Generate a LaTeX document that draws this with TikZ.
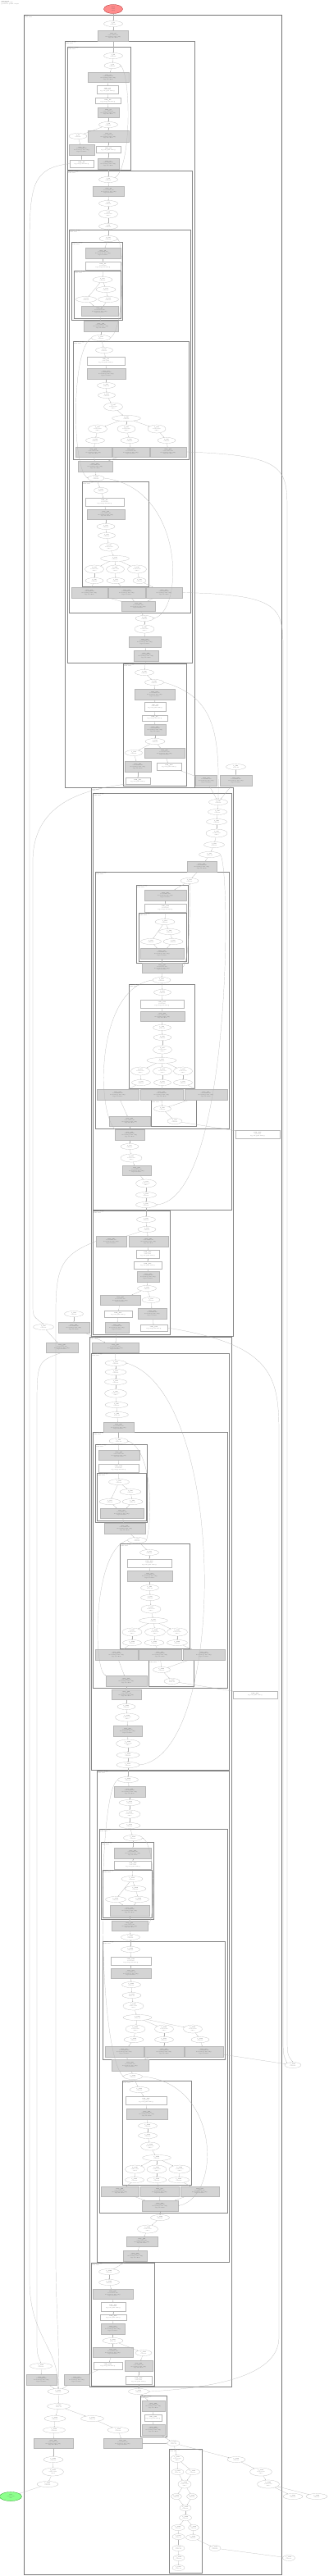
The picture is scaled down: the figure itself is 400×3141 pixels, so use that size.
\documentclass[tikz,border=0pt]{standalone}
\usetikzlibrary{shapes.geometric,arrows.meta}
\newcommand\tf{\fontsize{1.4}{1.75}\selectfont}
\tikzset{
 el/.style={ellipse,draw=black!30,line width=0.2pt,fill=white,inner sep=0pt,font=\tf,text=black!70,align=center},
 gbx/.style={rectangle,draw=black!28,fill=black!17,line width=0.2pt,inner sep=0pt,font=\tf,text=black!70,align=center},
 wbx/.style={rectangle,draw=black!28,fill=white,line width=0.2pt,inner sep=0pt,font=\tf,text=black!70,align=center},
 cl/.style={draw=black!48,line width=0.4pt},
 clA/.style={draw=black!55,line width=0.9pt},
 cll/.style={font=\tf,text=black!75,align=left,inner sep=0pt},
 ed/.style={draw=black!30,line width=0.2pt,-{Stealth[length=1.2pt,width=0.9pt]}},
}
\newcommand\Ea[5]{\node[el,minimum width=#4pt,minimum height=#5pt] (#1) at (#2,#3) {\textbf{f\_#1}\\0.01s 1x};}
\newcommand\Eb[5]{\node[el,minimum width=#4pt,minimum height=#5pt] (#1) at (#2,#3) {\textbf{f\_#1}\\0.01s 0.00s\\calls 1};}
\newcommand\Gb[5]{\node[gbx,minimum width=#4pt,minimum height=#5pt] (#1) at (#2,#3) {\textbf{step\_#1}\\0.01 0.00 0.01s\\mod/run.py:120 call()\\args ret=None};}
\newcommand\Wc[5]{\node[wbx,minimum width=#4pt,minimum height=#5pt] (#1) at (#2,#3) {\textbf{task\_#1}\\0.01 0.00s\\log/out.py:42 write()};}
\newcommand\Wb[5]{\node[wbx,minimum width=#4pt,minimum height=#5pt] (#1) at (#2,#3) {\textbf{task\_#1}\\log/out.py:42 write()};}
\newcommand\Cl[4]{\draw[cl] (#1,#2) rectangle (#3,#4); \node[cll,anchor=north west] at (#1+0.8,#2+0.6) {\textbf{cluster: stage}\\0.00s total};}
\begin{document}
\begin{tikzpicture}[x=1pt,y=-1pt]
\useasboundingbox (0,0) rectangle (400,3141);
\fill[white] (0,0) rectangle (400,3141);
\node[cll,anchor=north west] (hdr) at (1.5,1) {\textbf{call graph}\\total time: 0.00s\\generated: profile output};
% clusters
\draw[clA] (29,18) rectangle (343,3139);
\node[cll,anchor=north west] at (29.8,18.6) {\textbf{main}\\0.00s total};
\Cl{79}{50}{237}{960}
\Cl{82}{57}{159}{207}
\Cl{82}{208}{234}{808}
\Cl{84}{280}{232}{747}
\Cl{87}{295}{149}{390}
\Cl{90}{330}{147}{388}
\Cl{89}{416}{230}{560}
\Cl{100}{587}{181}{715}
\Cl{150}{809}{227}{958}
\Cl{111}{960}{284}{1629}
\Cl{113}{967}{282}{1475}
\Cl{116}{1063}{279}{1376}
\Cl{166}{1079}{229}{1174}
\Cl{169}{1113}{227}{1172}
\Cl{157}{1200}{237}{1327}
\Cl{184}{1341}{239}{1373}
\Cl{113}{1476}{207}{1627}
\Cl{109}{1630}{282}{2910}
\Cl{111}{1650}{279}{2158}
\Cl{113}{1746}{277}{2058}
\Cl{116}{1761}{179}{1856}
\Cl{118}{1796}{178}{1854}
\Cl{146}{1882}{231}{2010}
\Cl{181}{2024}{236}{2056}
\Cl{118}{2159}{279}{2758}
\Cl{121}{2230}{277}{2698}
\Cl{123}{2246}{187}{2340}
\Cl{125}{2280}{185}{2338}
\Cl{125}{2367}{274}{2511}
\Cl{149}{2537}{233}{2664}
\Cl{111}{2759}{188}{2909}
\Cl{171}{2921}{203}{2971}
\Cl{206}{2986}{246}{3137}
% nodes
\node[el,fill=red!45,draw=red!60!black,minimum width=23pt,minimum height=11pt] (red) at (138,11) {\textbf{start}\\0.00s\\entry};
\node[el,fill=green!45,draw=green!50!black,minimum width=27pt,minimum height=11pt] (green) at (13,3044) {\textbf{end}\\0.00s total\\exit};
\Ea{n1}{138}{29}{23}{7}
\Gb{g1}{138}{44}{37}{13}
\Ea{n2}{138}{68}{23}{7}
\Ea{n3}{137}{80}{20}{7}
\Gb{g2}{132}{94.5}{50}{12}
\Wc{w1}{131}{109.5}{26}{10}
\Wb{w2}{131.5}{123}{31}{7}
\Gb{g3}{132}{137}{26}{12}
\Ea{n4}{132}{152}{23}{7}
\Gb{g4}{132}{166}{50}{14}
\Ea{n5}{95}{166}{22}{7}
\Gb{g5}{99.5}{182.5}{31}{13}
\Wb{w3}{132}{182}{30}{8}
\Wb{w4}{99.5}{199.5}{29}{9}
\Gb{g6}{132}{199.5}{26}{13}
\Ea{n6}{132}{219}{23}{7}
\Gb{g7}{132.5}{233}{38}{12}
\Ea{n7}{132}{248}{23}{7}
\Eb{n8}{132}{261}{23}{10}
\Ea{n9}{132}{276}{23}{7}
\Ea{n10}{132}{291}{22}{7}
\Gb{g8}{125.5}{308.5}{43}{13}
\Wc{w5}{125.5}{324}{43}{10}
\Ea{n11}{125}{341}{24}{7}
\Ea{n12}{129}{353}{24}{7}
\Ea{n13}{105}{365}{25}{7}
\Ea{n14}{132}{365}{25}{7}
\Gb{g9}{121.5}{379}{45}{12}
\Gb{g10}{123}{397.5}{42}{13}
\Ea{n15}{123}{412}{23}{7}
\Ea{n16}{127}{427}{21}{7}
\Wc{w6}{129}{440}{46}{10}
\Gb{g11}{129.5}{455.5}{47}{13}
\Ea{n17}{129.5}{470}{22}{7}
\Ea{n18}{130}{482}{21}{7}
\Eb{n19}{138}{496}{23}{10}
\Ea{n20}{154}{510}{35}{7}
\Eb{n21}{119}{523}{23}{10}
\Eb{n22}{154}{523}{22}{10}
\Eb{n23}{191}{523}{22}{10}
\Ea{n24}{116}{537}{23}{7}
\Ea{n25}{158}{537}{22}{7}
\Ea{n26}{203}{537}{22}{7}
\Gb{g12}{114}{551}{44}{12}
\Gb{g13}{159.5}{551}{45}{12}
\Gb{g14}{205}{551}{44}{12}
\Gb{g15}{116}{568.5}{42}{13}
\Ea{n27}{117}{583}{20}{7}
\Ea{n28}{123}{598}{17}{7}
\Wc{w7}{127.5}{612}{47}{10}
\Gb{g16}{129}{627}{46}{12}
\Ea{n29}{129}{642}{22}{7}
\Ea{n30}{130}{653}{21}{7}
\Eb{n31}{133}{667}{23}{10}
\Ea{n32}{140}{681}{35}{7}
\Eb{n33}{115}{694}{23}{10}
\Eb{n34}{140.5}{694}{22}{10}
\Eb{n35}{167}{694}{23}{10}
\Ea{n36}{115}{708}{22}{7}
\Ea{n37}{141}{708}{22}{7}
\Ea{n38}{170}{708}{16}{7}
\Gb{g17}{109}{722.5}{44}{13}
\Gb{g18}{154.5}{722.5}{45}{13}
\Gb{g19}{200}{722.5}{44}{13}
\Gb{g20}{168.5}{739}{41}{12}
\Ea{n39}{176}{754}{22}{7}
\Eb{n40}{176}{767}{24}{10}
\Gb{g21}{176.5}{782.5}{39}{13}
\Gb{g22}{178}{799.5}{30}{13}
\Ea{n41}{176}{820}{23}{7}
\Ea{n42}{188}{832}{23}{7}
\Gb{g23}{188.5}{846.5}{49}{13}
\Wc{w8}{189}{861.5}{26}{11}
\Wb{w9}{188.5}{875.5}{31}{7}
\Gb{g24}{189}{889.5}{26}{13}
\Ea{n43}{189}{904}{24}{7}
\Ea{n44}{163}{918}{21}{7}
\Gb{g25}{200.5}{918}{49}{12}
\Gb{g26}{168}{934.5}{32}{13}
\Wb{w10}{206}{934.5}{30}{9}
\Wb{w11}{168}{952}{30}{8}
\Ea{n45}{287.5}{935}{24}{7}
\Gb{g27}{251.5}{951.5}{26}{13}
\Gb{g28}{287.5}{951.5}{39}{13}
\Ea{n46}{266}{978}{23}{7}
\Ea{n47}{265}{990}{23}{7}
\Ea{n48}{264}{1002}{25}{7}
\Eb{n49}{264}{1016}{26}{10}
\Ea{n50}{261}{1030}{25}{7}
\Ea{n51}{255.5}{1042}{26}{7}
\Gb{g29}{246}{1056.5}{36}{13}
\Ea{n52}{231}{1074}{22}{7}
\Gb{g30}{201.5}{1091.5}{51}{13}
\Wc{w12}{201.5}{1107}{51}{10}
\Ea{n53}{201}{1124}{24}{7}
\Ea{n54}{206.5}{1136}{26}{7}
\Ea{n55}{184}{1148}{25}{7}
\Ea{n56}{211}{1148}{24}{7}
\Gb{g31}{197.5}{1162.5}{53}{13}
\Gb{g32}{197.5}{1180}{49}{12}
\Ea{n57}{197}{1195}{22}{7}
\Ea{n58}{198}{1210}{21}{7}
\Wc{w13}{197.5}{1224}{53}{10}
\Gb{g33}{198}{1239}{54}{12}
\Ea{n59}{197.5}{1253}{22}{7}
\Ea{n60}{198}{1265}{22}{7}
\Eb{n61}{198}{1280}{23}{10}
\Ea{n62}{197}{1293}{36}{7}
\Eb{n63}{171}{1306}{23}{10}
\Eb{n64}{198}{1306}{23}{10}
\Eb{n65}{223}{1306}{23}{10}
\Ea{n66}{172}{1320}{23}{7}
\Ea{n67}{198}{1320}{21}{7}
\Ea{n68}{223}{1320}{23}{7}
\Gb{g34}{143.5}{1334.5}{51}{13}
\Gb{g35}{197}{1334.5}{52}{13}
\Gb{g36}{251}{1334.5}{52}{13}
\Ea{n69}{198}{1352}{21}{7}
\Ea{n70}{213}{1367}{18}{7}
\Gb{g37}{158}{1367}{50}{12}
\Wc{w14}{314}{1383}{54}{10}
\Gb{g38}{158}{1383.5}{36}{13}
\Ea{n71}{158}{1398}{22}{7}
\Eb{n72}{160}{1412}{26}{10}
\Gb{g39}{166.5}{1427}{35}{12}
\Eb{n73}{178}{1443}{25}{10}
\Ea{n74}{178}{1457}{25}{7}
\Ea{n75}{178}{1469}{25}{7}
\Ea{n76}{178}{1487}{23}{7}
\Ea{n77}{179}{1499}{22}{7}
\Gb{g40}{135.5}{1513.5}{37}{13}
\Gb{g41}{181}{1513.5}{48}{13}
\Wc{w15}{180}{1529}{28}{10}
\Wb{w16}{180}{1542.5}{34}{9}
\Gb{g42}{180.5}{1556.5}{27}{13}
\Ea{n78}{179}{1571}{23}{7}
\Gb{g43}{146.5}{1585}{49}{12}
\Ea{n79}{184}{1585}{22}{7}
\Wb{w17}{144}{1602}{34}{8}
\Gb{g44}{185.5}{1601.5}{35}{13}
\Gb{g45}{142.5}{1618.5}{29}{13}
\Wb{w18}{187.5}{1619}{33}{8}
\Ea{n80}{90}{1602}{23}{7}
\Gb{g46}{90}{1618.5}{38}{13}
\Ea{n81}{53}{1618}{25}{7}
\Gb{g47}{75.5}{1643}{39}{12}
\Gb{g48}{140.5}{1643}{57}{12}
\Ea{n82}{141}{1662}{26}{7}
\Ea{n83}{141}{1673}{26}{7}
\Ea{n84}{141}{1685}{27}{7}
\Eb{n85}{141}{1699}{27}{10}
\Ea{n86}{142}{1713}{28}{7}
\Ea{n87}{142.5}{1725}{28}{7}
\Gb{g49}{144.5}{1740}{37}{12}
\Ea{n88}{144.5}{1757}{23}{7}
\Gb{g50}{145}{1774}{50}{12}
\Wc{w19}{144.5}{1790}{49}{10}
\Ea{n89}{145}{1807}{25}{7}
\Ea{n90}{159}{1819}{26}{7}
\Ea{n91}{134}{1831}{26}{7}
\Ea{n92}{161.5}{1831}{25}{7}
\Gb{g51}{148.5}{1845}{53}{12}
\Gb{g52}{152}{1863.5}{50}{13}
\Ea{n93}{167}{1878}{23}{7}
\Ea{n94}{182}{1893}{23}{7}
\Wc{w20}{182}{1906}{54}{10}
\Gb{g53}{182.5}{1921.5}{55}{13}
\Ea{n95}{182.5}{1936}{22}{7}
\Ea{n96}{183}{1948}{23}{7}
\Eb{n97}{184}{1962}{24}{10}
\Ea{n98}{187}{1976}{35}{7}
\Eb{n99}{161}{1990}{24}{10}
\Eb{n100}{189}{1990}{25}{10}
\Eb{n101}{216}{1990}{25}{10}
\Ea{n102}{161}{2003}{23}{7}
\Ea{n103}{188}{2003}{24}{7}
\Ea{n104}{216}{2003}{25}{7}
\Gb{g54}{142}{2017.5}{52}{13}
\Gb{g55}{195}{2017.5}{52}{13}
\Gb{g56}{248.5}{2017.5}{51}{13}
\Ea{n105}{197}{2036}{21}{7}
\Ea{n106}{209.5}{2050}{19}{7}
\Gb{g57}{154}{2049.5}{50}{13}
\Wb{w21}{311}{2066.5}{54}{9}
\Gb{g58}{154}{2066}{36}{12}
\Ea{n107}{154}{2081}{22}{7}
\Eb{n108}{155}{2094}{29}{10}
\Gb{g59}{155.5}{2110.5}{35}{13}
\Eb{n109}{156}{2126}{29}{10}
\Ea{n110}{156}{2140}{28}{7}
\Ea{n111}{156}{2152}{28}{7}
\Ea{n112}{156}{2170}{25}{7}
\Gb{g60}{158}{2184.5}{38}{13}
\Ea{n113}{158}{2198}{26}{7}
\Eb{n114}{158}{2212}{26}{10}
\Ea{n115}{158}{2226}{26}{7}
\Ea{n116}{162}{2241}{23}{7}
\Gb{g61}{162}{2259.5}{45}{13}
\Wc{w22}{162}{2274}{45}{10}
\Ea{n117}{161}{2291}{26}{7}
\Ea{n118}{165}{2303}{26}{7}
\Ea{n119}{141}{2316}{25}{7}
\Ea{n120}{169}{2316}{25}{7}
\Gb{g62}{158}{2329.5}{48}{13}
\Gb{g63}{158}{2348}{44}{12}
\Ea{n121}{159}{2362}{23}{7}
\Ea{n122}{159}{2377}{23}{7}
\Wc{w23}{159.5}{2391}{49}{10}
\Gb{g64}{159.5}{2406}{49}{12}
\Ea{n123}{160}{2420}{23}{7}
\Ea{n124}{160.5}{2433}{23}{7}
\Eb{n125}{162.5}{2446}{25}{10}
\Ea{n126}{167.5}{2460}{35}{7}
\Eb{n127}{165}{2474}{24}{10}
\Eb{n128}{200}{2474}{23}{10}
\Eb{n129}{235}{2474}{23}{10}
\Ea{n130}{163}{2487}{24}{7}
\Ea{n131}{200}{2487}{23}{7}
\Ea{n132}{244}{2487}{22}{7}
\Gb{g65}{151.5}{2501.5}{47}{13}
\Gb{g66}{200}{2501.5}{48}{13}
\Gb{g67}{248.5}{2501.5}{47}{13}
\Ea{n133}{357}{2518}{20}{7}
\Gb{g68}{158.5}{2518}{45}{14}
\Ea{n134}{162}{2532}{23}{7}
\Ea{n135}{170}{2548}{24}{7}
\Wc{w24}{178}{2561}{50}{10}
\Gb{g69}{179}{2577.5}{50}{13}
\Ea{n136}{180}{2592}{23}{7}
\Ea{n137}{180}{2604}{23}{7}
\Eb{n138}{183}{2617}{23}{10}
\Ea{n139}{191}{2631}{35}{7}
\Eb{n140}{164.5}{2645}{24}{10}
\Eb{n141}{191}{2645}{24}{10}
\Eb{n142}{219}{2645}{26}{10}
\Ea{n143}{164}{2658}{23}{7}
\Ea{n144}{191}{2658}{24}{7}
\Ea{n145}{218}{2658}{25}{7}
\Gb{g70}{146}{2672}{46}{12}
\Gb{g71}{194.5}{2672}{47}{12}
\Gb{g72}{243.5}{2672}{47}{12}
\Gb{g73}{195}{2689.5}{44}{13}
\Ea{n146}{195}{2704}{23}{7}
\Eb{n147}{180}{2718}{25}{10}
\Gb{g74}{173}{2733}{38}{12}
\Gb{g75}{165}{2750.5}{29}{13}
\Ea{n148}{133}{2770}{25}{7}
\Ea{n149}{133}{2783}{25}{7}
\Gb{g76}{137.5}{2797}{49}{12}
\Wc{w25}{138}{2812.5}{30}{11}
\Wb{w26}{138}{2825.5}{32}{7}
\Gb{g77}{137.5}{2839.5}{29}{13}
\Ea{n150}{137.5}{2854}{25}{7}
\Gb{g78}{137.5}{2868}{49}{12}
\Ea{n151}{175}{2869}{20}{7}
\Gb{g79}{169}{2885}{34}{13}
\Wb{w27}{131.5}{2884.5}{35}{9}
\Ea{n152}{50}{2885}{27}{7}
\Wc{w28}{169}{2902}{32}{10}
\Gb{g80}{50.5}{2901.5}{37}{13}
\Gb{g81}{93.5}{2901.5}{31}{13}
\Ea{n153}{71}{2916}{26}{7}
\Ea{n154}{169}{2916}{25}{7}
\Gb{g82}{187}{2933.5}{28}{13}
\Wb{w29}{186.5}{2948}{21}{8}
\Gb{g83}{187}{2962.5}{28}{13}
\Ea{n155}{71.5}{2934}{28}{7}
\Ea{n156}{67}{2949}{26}{7}
\Ea{n157}{112.5}{2949}{28}{7}
\Ea{n158}{66}{2963}{27}{7}
\Ea{n159}{144}{2963}{26}{7}
\Gb{g84}{65}{2979}{48}{12}
\Gb{g85}{149.5}{2979}{47}{12}
\Ea{n160}{211.5}{2979}{15}{7}
\Eb{n161}{216}{2998}{16}{9}
\Ea{n162}{216.5}{3014}{15}{7}
\Ea{n163}{235}{3014}{17}{7}
\Eb{n164}{225}{3029}{16}{10}
\Ea{n165}{215}{3044}{13}{7}
\Ea{n166}{234}{3044}{13}{7}
\Ea{n167}{226}{3058}{14}{7}
\Ea{n168}{226}{3070}{15}{7}
\Ea{n169}{217}{3082}{16}{7}
\Ea{n170}{236}{3082}{13}{7}
\Ea{n171}{217.5}{3093}{15}{7}
\Ea{n172}{235}{3094}{17}{7}
\Ea{n173}{217.5}{3107}{15}{7}
\Ea{n174}{218}{3119}{14}{7}
\Ea{n175}{217.5}{3131}{15}{7}
\Ea{n176}{262}{3107}{14}{7}
\Ea{n177}{352}{3119}{15}{7}
\Ea{n178}{288}{2999}{22}{7}
\Eb{n179}{318}{3014}{27}{10}
\Eb{n180}{327}{3029}{27}{10}
\Ea{n181}{357}{3044}{24}{7}
\Ea{n182}{386}{3044}{26}{7}
\Ea{n185}{65}{2999}{24}{7}
\Eb{n184}{64.5}{3014}{26}{10}
\Ea{n183}{58}{3029}{26}{7}
% edges
\foreach \a/\b in {red/n1,n1/g1,g1/n2,n2/n3,n3/g2,g2/w1,w1/w2,w2/g3,g3/n4,n4/g4,n4/n5,n5/g5,g5/w4,g4/w3,w3/g6,g6/n6,n6/g7,g7/n7,n7/n8,n8/n9,n9/n10,n10/g8,g8/w5,w5/n11,n11/n12,n12/n14,n11/n13,n13/g9,n14/g9,g9/g10,g10/n15,n15/n16,n16/w6,w6/g11,g11/n17,n17/n18,n18/n19,n19/n20,n20/n21,n20/n22,n20/n23,n21/n24,n22/n25,n23/n26,n24/g12,n25/g13,n26/g14,g12/g15,g13/g15,g15/n27,n27/n28,n28/w7,w7/g16,g16/n29,n29/n30,n30/n31,n31/n32,n32/n33,n32/n34,n32/n35,n33/n36,n34/n37,n35/n38,n36/g17,n37/g18,n38/g19,g17/g20,g18/g20,g19/g20,g20/n39,n39/n40,n40/g21,g21/g22,g22/n41,n41/n42,n42/g23,g23/w8,w8/w9,w9/g24,g24/n43,n43/n44,n43/g25,n44/g26,g26/w11,g25/w10,w10/g27,n45/g28,g27/n46,g28/n46,n46/n47,n47/n48,n48/n49,n49/n50,n50/n51,n51/g29,g29/n52,n52/g30,g30/w12,w12/n53,n53/n54,n54/n56,n53/n55,n55/g31,n56/g31,g31/g32,g32/n57,n57/n58,n58/w13,w13/g33,g33/n59,n59/n60,n60/n61,n61/n62,n62/n63,n62/n64,n62/n65,n63/n66,n64/n67,n65/n68,n66/g34,n67/g35,n68/g36,g35/n69,g36/n69,n69/n70,n70/w14,g34/g37,g37/g38,g38/n71,n71/n72,n72/g39,g39/n73,n73/n74,n74/n75,n75/n76,n76/n77,n77/g40,n77/g41,g41/w15,w15/w16,w16/g42,g42/n78,n78/g43,n78/n79,g43/w17,w17/g45,n79/g44,g44/w18,g45/g48,n80/g46,g46/g48,n81/g47,g48/n82,n82/n83,n83/n84,n84/n85,n85/n86,n86/n87,n87/g49,g49/n88,n88/g50,g50/w19,w19/n89,n89/n90,n90/n92,n89/n91,n91/g51,n92/g51,g51/g52,g52/n93,n93/n94,n94/w20,w20/g53,g53/n95,n95/n96,n96/n97,n97/n98,n98/n99,n98/n100,n98/n101,n99/n102,n100/n103,n101/n104,n102/g54,n103/g55,n104/g56,g55/n105,g56/n105,n105/n106,n106/w21,g54/g57,g57/g58,g58/n107,n107/n108,n108/g59,g59/n109,n109/n110,n110/n111,n111/n112,n112/g60,g60/n113,n113/n114,n114/n115,n115/n116,n116/g61,g61/w22,w22/n117,n117/n118,n118/n120,n117/n119,n119/g62,n120/g62,g62/g63,g63/n121,n121/n122,n122/w23,w23/g64,g64/n123,n123/n124,n124/n125,n125/n126,n126/n127,n126/n128,n126/n129,n127/n130,n128/n131,n129/n132,n130/g65,n131/g66,n132/g67,g65/g68,g66/g68,g67/n133,g68/n134,n134/n135,n135/w24,w24/g69,g69/n136,n136/n137,n137/n138,n138/n139,n139/n140,n139/n141,n139/n142,n140/n143,n141/n144,n142/n145,n143/g70,n144/g71,n145/g72,g70/g73,g71/g73,g72/g73,g73/n146,n146/n147,n147/g74,g74/g75,g75/n148,n148/n149,n149/g76,g76/w25,w25/w26,w26/g77,g77/n150,n150/g78,n150/n151,n151/g79,g79/w28,g78/w27,w27/g81,w28/n154,n154/g82,g82/w29,w29/g83,g83/n160,n152/g80,g80/n153,g81/n153,n153/n155,n155/n156,n155/n157,n156/n158,n157/n159,n158/g84,n159/g85,g84/n185,n185/n184,n184/n183,n183/green,g85/n160,n160/n161,n161/n162,n161/n163,n162/n164,n163/n164,n164/n165,n164/n166,n165/n167,n166/n167,n167/n168,n168/n169,n168/n170,n169/n171,n170/n172,n171/n173,n173/n174,n174/n175,n172/n176,n176/n177,n160/n178,n178/n179,n179/n180,n180/n181,n180/n182}
  {\draw[ed] (\a) -- (\b);}
% long and looping connectors
\draw[ed] (n6.north east) .. controls (160,205) and (160,95) .. (n3.east);
\draw[ed] (n15.east) .. controls (152,400) and (152,300) .. (n10.east);
\draw[ed] (n15.west) .. controls (87,425) and (87,570) .. (n27.west);
\draw[ed] (n27.east) .. controls (225,595) and (225,745) .. (n39.east);
\draw[ed] (n42.east) .. controls (265,850) and (267,900) .. (n46.north);
\draw[ed] (g32.east) .. controls (232,1175) and (232,1090) .. (n52.south);
\draw[ed] (n57.west) .. controls (118,1205) and (117,1350) .. (g38.north west);
\draw[ed] (n51.east) .. controls (282,1060) and (282,1460) .. (n75.east);
\draw[ed] (w18.east) .. controls (335,1640) and (340,1680) .. (340,1750) -- (340,2850) .. controls (340,2900) and (250,2912) .. (n154.east);
\draw[ed] (n111.east) .. controls (278,2140) and (278,1700) .. (n82.east);
\draw[ed] (n93.east) .. controls (186,1850) and (186,1770) .. (n88.east);
\draw[ed] (n93.west) .. controls (113,1890) and (113,2035) .. (g57.north west);
\draw[ed] (n112.west) .. controls (118,2185) and (118,2500) .. (n134.west);
\draw[ed] (g63.east) .. controls (190,2340) and (190,2250) .. (n116.east);
\draw[ed] (n134.east) .. controls (270,2540) and (270,2680) .. (g73.east);
\draw[ed] (g14.east) .. controls (345,555) and (350,570) .. (350,620) -- (350,2480) .. controls (350,2505) .. (n133.north);
\draw[ed] (g19.east) .. controls (340,725) and (345,740) .. (345,790) -- (345,2480) .. controls (345,2505) .. (n133.north west);
\draw[ed] (w4.west) .. controls (40,205) and (36,225) .. (36,300) -- (36,2780) .. controls (36,2850) and (71,2860) .. (n153.north);
\draw[ed] (w11.south west) .. controls (110,962) and (40,975) .. (40,1050) -- (40,1590) .. controls (40,1605) .. (n81.north);
\draw[ed] (g40.west) .. controls (75,1530) and (68,1545) .. (68,1600) -- (68,2750) .. controls (68,2820) and (73,2860) .. (n153.north);
\draw[ed] (g47.south) .. controls (45,1660) .. (45,1720) -- (45,2850) .. controls (45,2870) .. (n152.north);
\end{tikzpicture}
\end{document}
